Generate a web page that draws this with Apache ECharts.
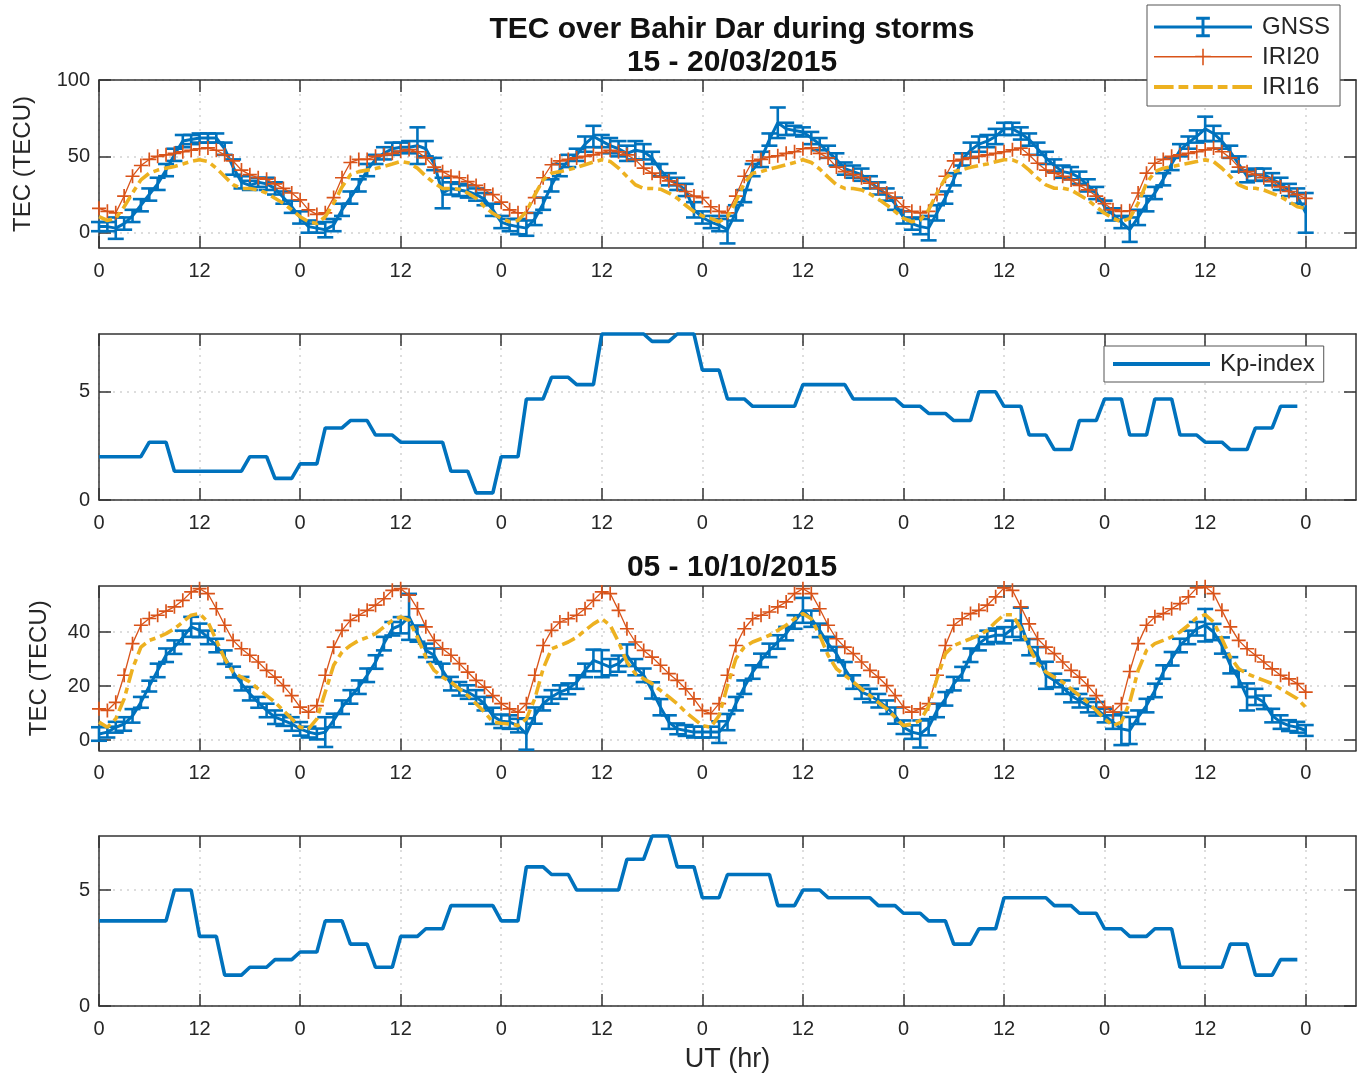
<!DOCTYPE html>
<html><head><meta charset="utf-8">
<script src="https://cdn.jsdelivr.net/npm/echarts@6/dist/echarts.min.js"></script>
<style>html,body{margin:0;padding:0;background:#fff}#c{width:1365px;height:1077px}</style>
</head><body><div id="c"></div>
<script>
// ---------------- DATA ----------------
// x ticks (UT hours since start of each 6-day window)
const X_TICKS = [0, 12, 24, 36, 48, 60, 72, 84, 96, 108, 120, 132, 144];
const X_TICK_LABELS = ['0','12','0','12','0','12','0','12','0','12','0','12','0'];
const Y_TICKS_TEC1 = [0, 50, 100];
const Y_TICKS_KP = [0, 5];
const Y_TICKS_TEC2 = [0, 20, 40];

// 15 - 20/03/2015, hourly TEC (TECU), hour 0..144
const GNSS_MAR = [4,4,3,6,11,18,25,32,41,51,60,61,62,62,62,55,43,33,31,33,32,29,23,17,
  10,4,3,2,5,15,23,31,41,48,52,55,56,56,57,55,45,26,29,28,27,25,22,15,
  7,5,4,3,9,19,31,41,47,51,58,63,60,57,55,52,54,53,49,41,35,32,28,15,
  10,7,5,2,13,24,41,48,61,72,68,67,66,62,58,53,48,42,40,38,33,29,25,19,
  10,6,4,3,13,23,35,48,54,58,60,63,68,68,65,61,55,49,44,40,39,36,31,26,
  17,12,7,2,10,19,26,35,45,54,59,63,68,65,60,53,45,37,38,38,35,32,28,24,13];
const GNSS_MAR_ERR = [3,3,7,4,4,4,4,4,4,4,4,3,3,3,3,4,5,4,3,3,4,4,4,4,
  4,4,3,5,4,4,4,4,4,3,4,4,3,4,12,5,4,10,4,4,4,4,4,4,
  4,4,5,5,4,4,4,4,4,4,5,7,4,5,5,5,6,5,4,4,4,4,4,5,
  4,4,4,9,5,4,4,5,4,10,4,3,3,4,4,4,4,4,4,4,4,4,4,4,
  4,4,5,8,5,4,4,4,5,5,4,5,4,4,4,4,4,4,4,4,4,4,4,4,
  4,4,4,8,5,5,4,4,4,4,4,4,8,5,5,4,5,4,4,4,4,4,4,5,13];
const IRI20_MAR = [16,14,13,24,37,44,48,50,51,52,53,54,55,55.5,54,51,47,41,38,36,35,32,29,26,
  21.5,15,12,13,23,36,46,48,48,50,51,52,53.5,54.5,53,49,43,40,37,36,33.5,31,28,25,
  20,15,13,13,23,36,44.5,47,48,49,50,51,52.5,54,53,51,47.8,42.3,39,36.4,34,31.4,27,24,
  23,17,14,13,24,37,47,48,49.6,50.4,52,53,55,55.5,52,49,43,40,38,36,32.5,29,26,22.6,
  17,14,13,14,25,37,47,48,49,50,51,52,53,54.3,55.4,51,45.5,41,39,37,34.6,31,28,24,
  19,15,14,14.4,26,39,45.5,48,50,51,52,53,54.3,55.4,53,49,43,40,38,36,33.5,30,27,25,22.5];
const IRI16_MAR = [10.5,8,9.5,17,26,34.6,39,41,42.3,43.4,45,46.7,47.8,46.7,42.3,36.8,31.4,29,29,28,26,22.6,19.3,15,
  10.5,7.2,6,10.5,19.3,30,38,40,41,42,43.4,45,46.7,45.6,42.3,37,32.5,29,29,28.5,26,22.6,17,12.7,
  9.4,7.2,8,13.8,24.8,34.6,39,40,41.2,42.8,44.5,46.3,47.8,46.7,42.3,36.8,31.4,29,29,28.5,26,22.6,18,13.8,
  11,9.4,7.2,10.5,20.4,32.5,39,40,41.7,43,44.5,46,47.8,46,41.7,36.4,31.4,29,29,28,25.4,22,18.2,13.8,
  9.4,7.2,8.3,15,26,35.7,40,41.2,42.8,44,45,46.5,47.8,47.7,45.5,41,35.7,31.3,29.1,29.1,28,24.7,21.4,17,
  12.7,9.4,7.2,9.4,19.3,32.4,40,42.2,43.3,44.4,45.5,46.6,47.7,46.6,42.2,36.8,31.3,29.1,29.1,28,25.8,23.6,20.4,17,16];
// 3-hourly Kp, 15 - 20/03/2015
const KP_MAR = [2.0,2.0,2.67,1.33,1.33,1.33,2.0,1.0, 1.67,3.33,3.67,3.0,2.67,2.67,1.33,0.33,
  2.0,4.67,5.67,5.33,7.67,7.67,7.33,7.67, 6.0,4.67,4.33,4.33,5.33,5.33,4.67,4.67,
  4.33,4.0,3.67,5.0,4.33,3.0,2.33,3.67, 4.67,3.0,4.67,3.0,2.67,2.33,3.33,4.33];

// 05 - 10/10/2015
const GNSS_OCT = [2.3,3,4.8,6,9,14,20,25.8,31.4,34.4,38,41.9,40.6,38,35,30.7,25.2,20.9,17.2,14,11,8.5,7.3,6,
  4.2,3,2.3,3,7.3,12.2,16,19.6,24,28.9,35.7,41.2,42.5,45.6,39.4,33.2,31.4,25.8,20.9,19,17.8,16,13.5,9,
  7,6.7,5.4,2.3,9.1,13.5,16,17.8,19,21.5,25.8,29.5,28.3,27,28.3,31.4,27,24,18.4,12.2,6.7,4.2,3.6,3,
  3,3,3,6.7,13.5,19.6,25.2,29.5,33.2,36.3,39.4,43.7,48,44.9,40.6,35.7,32,26.4,21.5,17.8,16.5,14.6,12.2,9.1,
  4.8,3,2.3,4.8,11,15.3,20.9,24.6,31.4,35.7,38,38.8,38.8,41.2,43,34.4,31.4,24,22.1,19.6,16.5,14.6,12.8,11.6,
  9.1,6.7,4.2,3.6,8.5,12.8,18.4,25.2,30.1,35,38,41.2,42.5,40,35,27.7,22.7,16,16,14,9.1,6.7,5.4,4.8,3.6];
const GNSS_OCT_ERR = [2.5,2,2,2.5,2.5,2,2,2.5,2.5,2.5,2.5,3.7,2.5,2.5,2.5,2.5,2,2.5,2.5,2,2.5,2.5,2,2.5,
  2.5,2,2,5.5,2.5,2.5,2.5,2.5,2.5,2.5,2.5,2.5,3,8.5,3,2.5,2.5,2.5,2.5,2.5,2.5,2.5,2.5,3,
  2.5,2.5,2.5,5.8,3,2.5,2.5,2.5,2,2.5,2.5,4,5,3,3,4,3,2.5,3,3,2.5,2,2,2,
  2,2,4,3,2.5,2.5,2.5,2.5,2.5,2.5,2.5,2.5,4.6,3,2.5,2.5,2.5,2.5,2.5,2.5,2.5,2.5,2.5,3,
  2.5,2.5,5,3,2.5,2.5,2.5,2.5,2.5,2.5,2.5,2.5,3,3,6,3,3,5,2.5,2.5,2.5,2.5,2.5,2.5,
  2.5,2.5,6,5,2.5,2.5,2.5,2.5,2.5,2.5,2.5,2.5,6,3,3,3,3,5,3,2.5,2.5,2.5,2,2,2];
const IRI20_OCT = [11.6,11,14,24,35.7,42.5,45,46.2,47.7,49.3,51.7,54.8,56,54.2,48.6,42.5,36.9,33.8,31.4,28.9,25.8,23.3,20.2,16.5,
  12.2,10.4,12.8,24,34.4,40.6,44.3,46.2,48,49.9,52.3,55.4,56,53.6,48.6,41.9,36.9,33.8,31.4,28.3,25.2,22.1,19.6,16.5,
  13.5,11.6,10.4,13.5,24,35,40.6,43.7,44.9,46.2,48.6,51.7,54.8,54.2,48,41.2,36.3,33.2,30.7,27.7,24.6,22.1,19,15.3,
  11,9.8,13.5,24,35,41.2,44.9,46.2,47.4,49.3,51.1,54.2,56,54.2,48.6,42.5,37.5,34.4,32,28.9,25.8,23.3,20.2,16.5,
  12.2,10.4,11.6,13.5,24,35,42.5,44.9,46.8,48,49.9,53,56.3,55.4,49.3,43,37.5,34.4,32,28.9,25.8,23.3,20.2,16.5,
  12.2,10.4,13.5,25.4,35.7,42.5,45.6,46.8,48.6,50.5,53,56.3,56.7,54.2,48,41.9,36.9,33.8,31.4,28.9,26.4,24,22.7,20.9,17.8];
const IRI16_OCT = [6.7,4.8,7.9,15.3,26.4,34.4,36.9,38,39.4,41.2,43.7,46.2,46.8,43.7,36.9,30.1,25.2,23.3,21.5,19,16.5,14,11,7.9,
  4.8,4.2,7.9,17.8,27.7,32.6,35,36.9,38,39.4,41.9,44.3,45.6,44.3,38,30.7,25.8,23.3,21.5,19,16.5,13.5,10.4,6.7,
  6.3,6,5.4,7.9,15.3,26.4,33.8,35,36.3,38,40.6,43,44.9,42.5,36.3,28.9,24.6,22.7,20.9,18.4,16,13.5,10.4,7.9,
  5.4,4.8,9.1,20.2,30.1,34.4,36.3,37.5,38.8,40.6,42.5,44.9,46.8,44.9,38.8,31.4,26.4,24,21.5,19,16.5,14,11.6,8.5,
  5.4,6,7.3,12.5,22.7,32,35,36.3,37.5,38.8,40.6,43.7,46.4,46.4,41.2,34.4,28.3,25.2,23.3,21.5,19,16.5,14,11,
  7.9,5.4,6.7,14,25.8,33.2,35.7,36.9,38.2,40,42.5,45.2,46.4,43.7,37.5,30.7,26.4,24.6,23.3,22.1,20.9,19,17.2,15.3,12.2];
const KP_OCT = [3.67,3.67,3.67,5.0,3.0,1.33,1.67,2.0, 2.33,3.67,2.67,1.67,3.0,3.33,4.33,4.33,
  3.67,6.0,5.67,5.0,5.0,6.33,7.33,6.0, 4.67,5.67,5.67,4.33,5.0,4.67,4.67,4.33,
  4.0,3.67,2.67,3.33,4.67,4.67,4.33,4.0, 3.33,3.0,3.33,1.67,1.67,2.67,1.33,2.0];

// ---------------- STYLE ----------------
const FONT = '"Liberation Sans", Arial, Helvetica, sans-serif';
const C_GNSS = '#0072BD', C_I20 = '#D95319', C_I16 = '#EDB120';
const AX = '#333333', TXT = '#262626', GRIDC = '#d2d2d2';
const X_MIN = 0, X_MAX = 150;

const GRIDS = [
  {left: 99, width: 1257, top: 80, height: 168},
  {left: 99, width: 1257, top: 334, height: 166},
  {left: 99, width: 1257, top: 586, height: 164.5},
  {left: 99, width: 1257, top: 836, height: 170}
];
const Y_RANGES = [[-10, 100], [0, 7.67], [-3.8, 57], [0, 7.33]];
const Y_TICKS = [Y_TICKS_TEC1, Y_TICKS_KP, Y_TICKS_TEC2, Y_TICKS_KP];

const tec = (vals) => vals.map((v, i) => [i, v]);
const tecErr = (vals, err) => vals.map((v, i) => [i, v, err[i]]);
const kpHourly = (kp) => { const out = []; for (let h = 0; h < kp.length * 3; h++) out.push([h, kp[Math.floor(h / 3)]]); return out; };

const xAxes = [], yAxes = [];
GRIDS.forEach((g, gi) => {
  const lineSt = {color: AX, width: 1.5};
  xAxes.push({
    type: 'value', gridIndex: gi, min: X_MIN, max: X_MAX, position: 'bottom',
    axisLine: {show: true, onZero: false, lineStyle: lineSt},
    axisTick: {show: true, inside: true, length: 12, customValues: X_TICKS, lineStyle: lineSt},
    axisLabel: {show: true, customValues: X_TICKS, margin: 13, fontSize: 20, color: TXT, fontFamily: FONT,
      formatter: (v) => X_TICK_LABELS[X_TICKS.indexOf(v)]},
    splitLine: {show: true, lineStyle: {color: GRIDC, type: [2, 5], width: 1.5}},
    name: gi === 3 ? 'UT (hr)' : '', nameLocation: 'middle', nameGap: 40,
    nameTextStyle: {fontSize: 27, color: TXT, fontFamily: FONT}
  });
  xAxes.push({
    type: 'value', gridIndex: gi, min: X_MIN, max: X_MAX, position: 'top',
    axisLine: {show: true, onZero: false, lineStyle: lineSt},
    axisTick: {show: true, inside: true, length: 12, customValues: X_TICKS, lineStyle: lineSt},
    axisLabel: {show: false}, splitLine: {show: false}
  });
  const isTec = gi === 0 || gi === 2;
  yAxes.push({
    type: 'value', gridIndex: gi, min: Y_RANGES[gi][0], max: Y_RANGES[gi][1], position: 'left',
    axisLine: {show: true, onZero: false, lineStyle: lineSt},
    axisTick: {show: true, inside: true, length: 12, customValues: Y_TICKS[gi], lineStyle: lineSt},
    axisLabel: {show: true, customValues: Y_TICKS[gi], margin: 9, fontSize: 20, color: TXT, fontFamily: FONT},
    splitLine: {show: true, lineStyle: {color: GRIDC, type: [2, 5], width: 1.5}},
    name: isTec ? 'TEC (TECU)' : '', nameLocation: 'middle', nameRotate: 90,
    nameGap: gi === 0 ? 64 : 48,
    nameTextStyle: {fontSize: 24, color: TXT, fontFamily: FONT}
  });
  yAxes.push({
    type: 'value', gridIndex: gi, min: Y_RANGES[gi][0], max: Y_RANGES[gi][1], position: 'right',
    axisLine: {show: true, onZero: false, lineStyle: lineSt},
    axisTick: {show: true, inside: true, length: 12, customValues: Y_TICKS[gi], lineStyle: lineSt},
    axisLabel: {show: false}, splitLine: {show: false}
  });
});

function errorBarItem(params, api) {
  const x = api.value(0), y = api.value(1), e = api.value(2);
  const top = api.coord([x, y + e]);
  const bot = api.coord([x, y - e]);
  const hw = 8;
  const st = {stroke: C_GNSS, lineWidth: 2.6, fill: null};
  return {type: 'group', children: [
    {type: 'line', shape: {x1: top[0], y1: top[1], x2: bot[0], y2: bot[1]}, style: st},
    {type: 'line', shape: {x1: top[0] - hw, y1: top[1], x2: top[0] + hw, y2: top[1]}, style: st},
    {type: 'line', shape: {x1: bot[0] - hw, y1: bot[1], x2: bot[0] + hw, y2: bot[1]}, style: st}
  ]};
}

const PLUS = 'path://M0,8.8h20v2.4h-20z M8.8,0h2.4v20h-2.4z';
function tecSeries(gi, gnss, err, i20, i16) {
  const xi = gi * 2, yi = gi * 2;
  return [
    {name: 'GNSS', type: 'line', xAxisIndex: xi, yAxisIndex: yi, data: tec(gnss), symbol: 'none',
      lineStyle: {color: C_GNSS, width: 3}, itemStyle: {color: C_GNSS}, clip: false, z: 2},
    {name: 'GNSS', type: 'custom', xAxisIndex: xi, yAxisIndex: yi, data: tecErr(gnss, err),
      renderItem: errorBarItem, encode: {x: 0, y: 1}, itemStyle: {color: C_GNSS}, clip: false, z: 2},
    {name: 'IRI20', type: 'line', xAxisIndex: xi, yAxisIndex: yi, data: tec(i20), symbol: PLUS, symbolSize: 14,
      showSymbol: true, lineStyle: {color: C_I20, width: 1.3}, itemStyle: {color: C_I20, borderWidth: 0}, clip: false, z: 3},
    {name: 'IRI16', type: 'line', xAxisIndex: xi, yAxisIndex: yi, data: tec(i16), symbol: 'none',
      lineStyle: {color: C_I16, width: 3.6, type: [14, 5, 6, 5]}, itemStyle: {color: C_I16}, clip: false, z: 4}
  ];
}
function kpSeries(gi, kp) {
  return {name: 'Kp-index', type: 'line', xAxisIndex: gi * 2, yAxisIndex: gi * 2, data: kpHourly(kp), symbol: 'none',
    lineStyle: {color: C_GNSS, width: 3.6}, itemStyle: {color: C_GNSS}, clip: false, z: 2};
}

const ICON_GNSS = 'path://M0,9h100v3h-100z M48.5,0h3v21h-3z M43,0h14v3h-14z M43,18h14v3h-14z';
const ICON_I20 = 'path://M0,9.4h100v1.6h-100z M49.2,2h1.6v17h-1.6z M42,9.3h16v1.8h-16z';
const ICON_I16 = 'path://M0,0h20v4h-20z M25,0h10v4h-10z M40,0h20v4h-20z M65,0h10v4h-10z M80,0h20v4h-20z';
const ICON_KP = 'path://M0,0h100v4h-100z';

const titleStyle = {fontSize: 30, fontWeight: 'bold', color: '#111', fontFamily: FONT};
const option = {
  animation: false,
  backgroundColor: '#fff',
  title: [
    {text: 'TEC over Bahir Dar during storms', left: 727, top: 10, textAlign: 'center', textStyle: titleStyle},
    {text: '15 - 20/03/2015', left: 727, top: 43, textAlign: 'center', textStyle: titleStyle},
    {text: '05 - 10/10/2015', left: 727, top: 548, textAlign: 'center', textStyle: titleStyle}
  ],
  legend: [
    {orient: 'vertical', left: 1147, top: 5, padding: [10, 10, 7, 7], itemWidth: 98, itemHeight: 21, itemGap: 6,
      backgroundColor: '#fff', borderColor: '#555', borderWidth: 1, selectedMode: false,
      textStyle: {fontSize: 24, color: TXT, fontFamily: FONT, padding: [0, 0, 0, 5]},
      itemStyle: {borderWidth: 0},
      data: [{name: 'GNSS', icon: ICON_GNSS}, {name: 'IRI20', icon: ICON_I20}, {name: 'IRI16', icon: ICON_I16}]},
    {orient: 'vertical', left: 1104, top: 346, padding: [6, 9, 6, 9], itemWidth: 97, itemHeight: 22,
      backgroundColor: '#fff', borderColor: '#555', borderWidth: 1, selectedMode: false,
      textStyle: {fontSize: 24, color: TXT, fontFamily: FONT, padding: [0, 0, 0, 5]},
      itemStyle: {borderWidth: 0},
      data: [{name: 'Kp-index', icon: ICON_KP}]}
  ],
  grid: GRIDS.map(g => Object.assign({containLabel: false, outerBoundsMode: 'none'}, g)),
  xAxis: xAxes,
  yAxis: yAxes,
  series: [].concat(
    tecSeries(0, GNSS_MAR, GNSS_MAR_ERR, IRI20_MAR, IRI16_MAR),
    [kpSeries(1, KP_MAR)],
    tecSeries(2, GNSS_OCT, GNSS_OCT_ERR, IRI20_OCT, IRI16_OCT),
    [kpSeries(3, KP_OCT)]
  )
};
const chart = echarts.init(document.getElementById('c'), null, {renderer: 'canvas'});
chart.setOption(option);
</script></body></html>
